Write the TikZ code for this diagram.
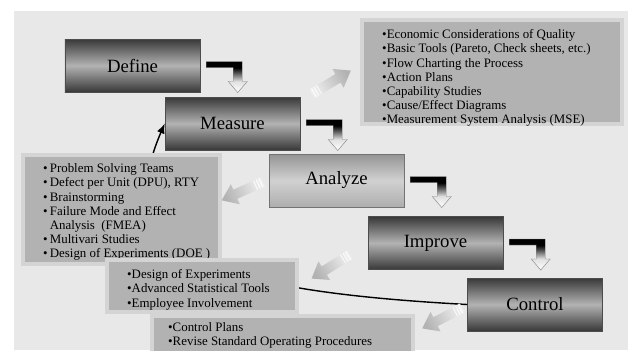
\documentclass[tikz,border=0pt]{standalone}
\usepackage{fontspec}
\setmainfont{Liberation Serif}
\usetikzlibrary{arrows.meta}
\pgfdeclareverticalshading{elbowshade}{100bp}{color(0bp)=(white); color(25bp)=(white);
    color(43bp)=(black!12); color(65bp)=(black); color(100bp)=(black)}

\begin{document}
\begin{tikzpicture}[x=0.03cm, y=-0.03cm]
        % Define the styles
        \tikzset{
            phasebox/.style={draw=black!70, minimum width=4.05cm, minimum height=1.59cm,
                top color=black!78, bottom color=black!78, middle color=black!30,
                font=\fontsize{16}{19}\selectfont},
            lightbox/.style={phasebox, draw=black!55,
                top color=black!42, bottom color=black!32, middle color=black!18},
            listbox/.style={draw=black!17, line width=1.2mm, fill=black!30, inner sep=0pt},
            listtext/.style={anchor=north west, inner sep=0pt, align=left,
                font=\fontsize{11}{12.1}\selectfont},
            pics/elbow/.style={code={
                \shade[shading=elbowshade, draw=black!45]
                    (6,-4) -- (42,-4) -- (42,16) -- (47,16) -- (37.5,27)
                    -- (28,16) -- (33,16) -- (33,2) -- (6,2) -- cycle;
            }},
            pics/grayarrow/.style={code={
                \pgfmathsetmacro\arrowang{#1+90}
                \begin{scope}[rotate=#1]
                    \shade[top color=black!6, bottom color=black!30, shading angle=\arrowang]
                        (0,-5) -- (30,-5) -- (30,-11) -- (45,0) -- (30,11) -- (30,5) -- (0,5) -- cycle;
                    \foreach \s in {2,5,8}
                        \draw[white, line width=0.6pt] (\s,-5) -- (\s,5);
                \end{scope}
            }}
        }

        \clip (0,0) rectangle (628,350);
        \fill[black!9] (14,11) rectangle (628,350);

        % Phases
        \node[phasebox] (define) at (132.5,65.5) {Define};
        \node[phasebox] (measure) at (232.5,123.5) {Measure};
        \node[lightbox] (analyze) at (336.5,180.5) {Analyze};
        \node[phasebox] (improve) at (435.5,243) {Improve};
        \node[phasebox] (control) at (535,304.5) {Control};

        % Feedback
        \draw[line width=1.2pt, -{Latex[length=3mm, width=2.4mm]}]
            (control.west) .. controls (200,290) and (110,250) .. (measure.west);

        % Lists
        \node[listbox, minimum width=7.8cm, minimum height=3.12cm] (msebox) at (492,72) {};
        \node[listtext] (msetext) at (382,29.5) {•Economic Considerations of Quality\\
            •Basic Tools (Pareto, Check sheets, etc.)\\
            •Flow Charting the Process\\
            •Action Plans\\
            •Capability Studies\\
            •Cause/Effect Diagrams\\
            •Measurement System Analysis (MSE)};

        \node[listbox, minimum width=5.91cm, minimum height=3.27cm] (analyzebox) at (121.5,209.5) {};
        \node[listtext] (analyzetext) at (43,163.5) {•\,Problem Solving Teams\\
            •\,Defect per Unit (DPU), RTY\\
            •\,Brainstorming\\
            •\,Failure Mode and Effect\\
            \phantom{•\,}Analysis\ \ (FMEA)\\
            •\,Multivari Studies\\
            •\,Design of Experiments (DOE )};

        \node[listbox, minimum width=5.7cm, minimum height=1.56cm] (improvebox) at (202,286) {};
        \node[listtext] (improvetext) at (127,269.5) {•Design of Experiments\\
            •Advanced Statistical Tools\\
            •Employee Involvement};

        \node[listbox, minimum width=7.83cm, minimum height=1.14cm] (controlbox) at (282.5,335) {};
        \node[listtext] (controltext) at (168,322.5) {•Control Plans\\
            •Revise Standard Operating Procedures};

        % Arrows
        \pic at (define.east) {elbow};
        \pic at (measure.east) {elbow};
        \pic at (analyze.east) {elbow};
        \pic at (improve.east) {elbow};

        \pic at ([shift={(12,-3)}]measure.north east) {grayarrow=31};
        \pic at ([shift={(-6,1.5)}]analyze.west) {grayarrow=204};
        \pic at ([shift={(-18,-15)}]improve.south west) {grayarrow=212};
        \pic at ([shift={(-5,3.5)}]control.west) {grayarrow=207};
    \end{tikzpicture}
\end{document}
